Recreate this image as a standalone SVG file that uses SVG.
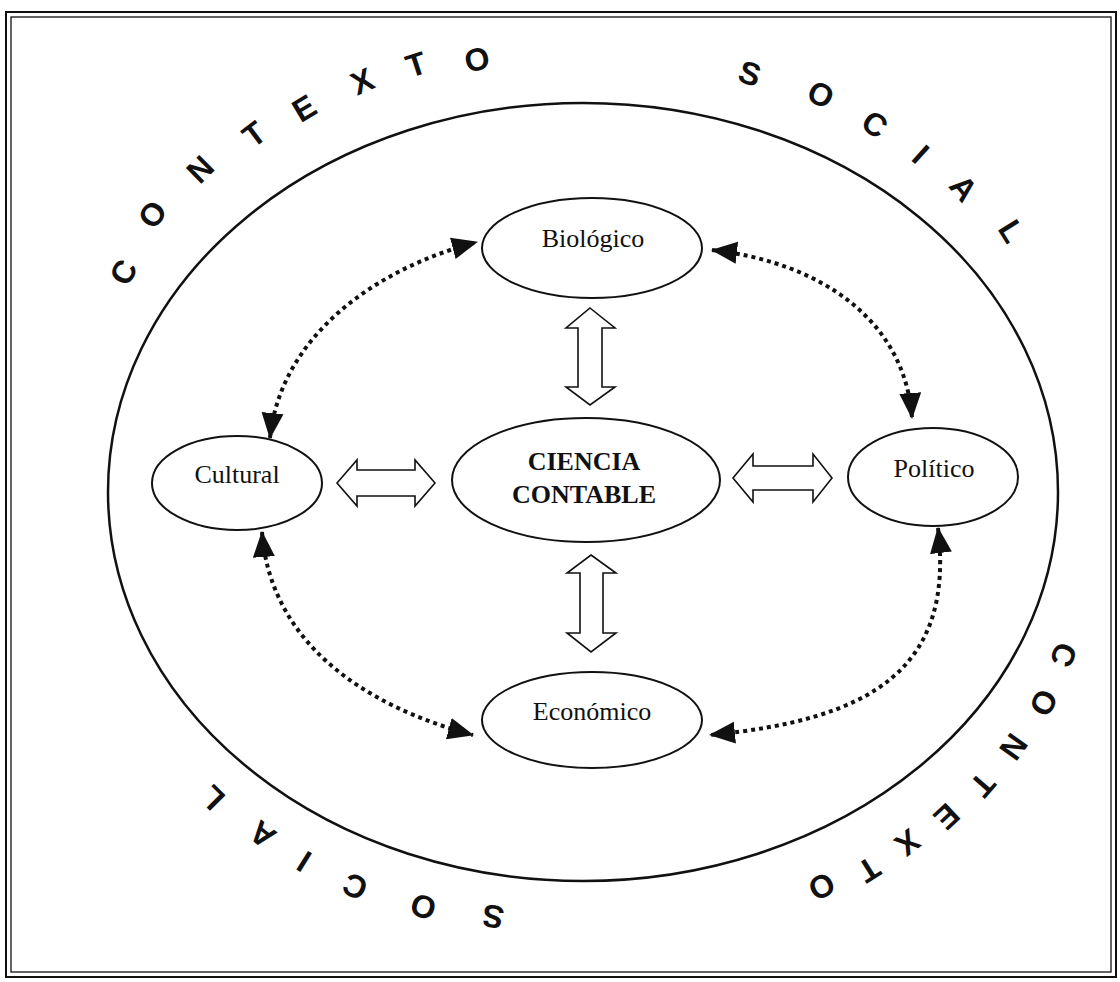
<svg xmlns="http://www.w3.org/2000/svg" width="1120" height="982" viewBox="0 0 1120 982">
  <style>
    .frame { fill: none; stroke: #111; }
    .ring { fill: none; stroke: #111; stroke-width: 2.5; }
    .node { fill: #fff; stroke: #111; stroke-width: 2; }
    .label { font-family: "Liberation Serif", "Times New Roman", serif; font-size: 26px; fill: #111; text-anchor: middle; }
    .bold { font-weight: bold; }
    .arc { font-family: "Liberation Sans", Arial, sans-serif; font-size: 32px; font-weight: bold; fill: #111; text-anchor: middle; }
    .dotted { fill: none; stroke: #111; stroke-width: 4; stroke-dasharray: 4 4; marker-start: url(#tip); marker-end: url(#tip); }
    .block { fill: #fff; stroke: #111; stroke-width: 1.6; stroke-linejoin: miter; }
  </style>
  <defs>
    <marker id="tip" viewBox="0 0 26 24" refX="25" refY="12" markerWidth="26" markerHeight="24" markerUnits="userSpaceOnUse" orient="auto-start-reverse">
      <path d="M0,1 L26,12 L0,23 Z" fill="#111"/>
    </marker>
  </defs>

  <rect width="1120" height="982" fill="#fff"/>

  <!-- double page border -->
  <rect class="frame" x="6" y="12" width="1110" height="965" stroke-width="2"/>
  <rect class="frame" x="11" y="17" width="1100" height="955" stroke-width="1.3"/>

  <!-- social context boundary -->
  <ellipse id="contexto" class="ring" cx="583" cy="492" rx="475" ry="389"/>

  <!-- lettering around the boundary -->
  <g id="contexto-social-texto">
    <text class="arc" transform="translate(123,272) rotate(-60)" y="11.5">C</text>
    <text class="arc" transform="translate(152,214) rotate(-52)" y="11.5">O</text>
    <text class="arc" transform="translate(200,169) rotate(-44.5)" y="11.5">N</text>
    <text class="arc" transform="translate(254,134) rotate(-37)" y="11.5">T</text>
    <text class="arc" transform="translate(304,108) rotate(-31)" y="11.5">E</text>
    <text class="arc" transform="translate(362,81) rotate(-24)" y="11.5">X</text>
    <text class="arc" transform="translate(416,64) rotate(-18)" y="11.5">T</text>
    <text class="arc" transform="translate(477,59) rotate(-11.5)" y="11.5">O</text>

    <text class="arc" transform="translate(750,73) rotate(18)" y="11.5">S</text>
    <text class="arc" transform="translate(821,94) rotate(26)" y="11.5">O</text>
    <text class="arc" transform="translate(875,124) rotate(34)" y="11.5">C</text>
    <text class="arc" transform="translate(921,154) rotate(42)" y="11.5">I</text>
    <text class="arc" transform="translate(964,188) rotate(50)" y="11.5">A</text>
    <text class="arc" transform="translate(1012,231) rotate(58)" y="11.5">L</text>

    <text class="arc" transform="translate(1064,655) rotate(112)" y="11.5">C</text>
    <text class="arc" transform="translate(1044,703) rotate(119)" y="11.5">O</text>
    <text class="arc" transform="translate(1014,747) rotate(125.5)" y="11.5">N</text>
    <text class="arc" transform="translate(983,785) rotate(131)" y="11.5">T</text>
    <text class="arc" transform="translate(947,817) rotate(137)" y="11.5">E</text>
    <text class="arc" transform="translate(908,843) rotate(142)" y="11.5">X</text>
    <text class="arc" transform="translate(869,870) rotate(148)" y="11.5">T</text>
    <text class="arc" transform="translate(822,887) rotate(153)" y="11.5">O</text>

    <text class="arc" transform="translate(493,917) rotate(190)" y="11.5">S</text>
    <text class="arc" transform="translate(423,907) rotate(198)" y="11.5">O</text>
    <text class="arc" transform="translate(355,887) rotate(205.5)" y="11.5">C</text>
    <text class="arc" transform="translate(304,862) rotate(212)" y="11.5">I</text>
    <text class="arc" transform="translate(262,835) rotate(218)" y="11.5">A</text>
    <text class="arc" transform="translate(212,798) rotate(225)" y="11.5">L</text>
  </g>

  <!-- connectors -->
  <g id="connectors">
    <path class="dotted" d="M270,438 C280,340 370,270 477,242"/>
    <path class="dotted" d="M712,250 C820,262 905,320 912,418"/>
    <path class="dotted" d="M262,532 C270,640 360,705 473,735"/>
    <path class="dotted" d="M938,528 C955,670 870,720 710,735"/>

    <polygon class="block" points="590,308 615,328 602,328 602,387 615,387 590,405 566,387 578,387 578,328 566,328"/>
    <polygon class="block" points="591,555 616,573 603,573 603,633 616,633 591,652 567,633 580,633 580,573 567,573"/>
    <polygon class="block" points="337,483 357,460 357,470 415,470 415,460 435,483 415,506 415,496 357,496 357,506"/>
    <polygon class="block" points="733,478 753,454 753,466 813,466 813,454 832,478 813,502 813,490 753,490 753,502"/>
  </g>

  <!-- nodes -->
  <g id="biologico">
    <ellipse class="node" cx="592" cy="248" rx="110" ry="50"/>
    <text class="label" x="593" y="247">Biológico</text>
  </g>
  <g id="ciencia-contable">
    <ellipse class="node" cx="586" cy="480" rx="134" ry="62"/>
    <text class="label bold" x="584" y="470">CIENCIA</text>
    <text class="label bold" x="584" y="503">CONTABLE</text>
  </g>
  <g id="cultural">
    <ellipse class="node" cx="237" cy="483" rx="85" ry="47"/>
    <text class="label" x="237" y="483">Cultural</text>
  </g>
  <g id="politico">
    <ellipse class="node" cx="933" cy="477" rx="85" ry="49"/>
    <text class="label" x="934" y="477">Político</text>
  </g>
  <g id="economico">
    <ellipse class="node" cx="592" cy="720" rx="110" ry="48"/>
    <text class="label" x="592" y="720">Económico</text>
  </g>
</svg>
